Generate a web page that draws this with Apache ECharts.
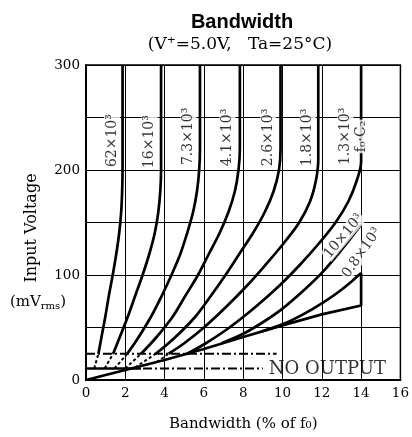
<!DOCTYPE html>
<html><head><meta charset="utf-8">
<script src="https://cdn.jsdelivr.net/npm/echarts@6/dist/echarts.min.js"></script>
<style>html,body{margin:0;padding:0;background:#fff}#c{width:412px;height:437px}</style>
</head><body><div id="c"></div>
<script>
// ---- data ----
const xTicks = [0, 2, 4, 6, 8, 10, 12, 14, 16];
const yTickLabels = [0, 100, 200, 300];

// curves (solid parts, above the 25 mV dash-dot line)
const c62 = [[0.63,25],[0.78,40],[0.98,60],[1.16,80],[1.36,100],[1.54,120],[1.69,140],[1.79,160],[1.84,180],[1.86,200],[1.86,300]];
const c16 = [[1.38,25],[1.7,40],[2.12,60],[2.5,80],[2.88,100],[3.22,120],[3.5,140],[3.68,160],[3.78,180],[3.82,200],[3.82,300]];
const c73 = [[2.1,25],[2.65,40],[3.3,60],[3.85,80],[4.35,100],[4.8,120],[5.15,140],[5.45,160],[5.65,180],[5.76,200],[5.8,220],[5.8,300]];
const c41 = [[2.8,25],[3.55,40],[4.4,60],[5.05,80],[5.7,100],[6.25,120],[6.8,140],[7.25,160],[7.58,180],[7.76,200],[7.83,220],[7.83,300]];
const c26 = [[3.55,25],[4.5,40],[5.55,60],[6.35,80],[7.1,100],[7.8,120],[8.5,140],[9.1,160],[9.55,180],[9.82,200],[9.9,220],[9.9,300]];
const c18 = [[4.2,25],[5.0,35],[6.0,50],[7.15,70],[8.2,90],[9.15,110],[10.05,130],[10.85,150],[11.4,170],[11.7,190],[11.82,210],[11.82,300]];
const c13 = [[5.1,24.5],[6.1,35],[7.3,50],[8.65,70],[9.85,90],[10.9,110],[11.85,130],[12.7,150],[13.35,170],[13.78,190],[14,208],[14,300]];
const c10 = [[6.9,35],[8,44],[9,55],[10,68],[11,84],[12,102],[13,124],[14,148]];
const c08 = [[8.9,46],[10,53],[11,62],[12,73],[13,86],[14,102]];
// dashed parts (between the two dash-dot lines)
const d62 = [[0.42,11],[0.63,25]];
const d16 = [[0.95,11],[1.38,25]];
const d73 = [[1.45,11],[2.1,25]];
const d41 = [[2.0,11],[2.8,25]];
const d26 = [[2.5,12],[3.55,25]];
const d18 = [[3.6,17],[4.2,25]];
// lower boundary line
const boundary = [[0,0],[2,9.5],[4,19],[6,29.5],[8,41],[10,52],[12,62.5],[14,71],[14,102]];
// reference lines
const upperDashDot = [[0,25],[9.7,25]];
const lowerSolid   = [[0,11],[2.8,11]];
const lowerDashDot = [[2.9,11],[9.0,11]];
const noOutputAt   = [9.3, 10.5];

const labelTexts = ['62×10³','16×10³','7.3×10³','4.1×10³','2.6×10³','1.8×10³','1.3×10³','f₀·C₂'];
const labelAt    = [[1.32,228],[3.24,227],[5.22,232],[7.19,231],[9.27,231],[11.29,231],[13.2,232],[14.0,232]];
const slantTexts = ['10×10³','0.8×10³'];
const slantAt    = [[13.11,137],[14.03,121]];

// ---- chart ----
const SERIF = '"DejaVu Serif", serif';
const chart = echarts.init(document.getElementById('c'));
function solid(data){ return {type:'line', data, symbol:'none', smooth:0.35, silent:true, z:5,
  lineStyle:{color:'#000', width:2.7}}; }
function dashed(data){ return {type:'line', data, symbol:'none', silent:true, z:5,
  lineStyle:{color:'#000', width:2, type:[3,2.5]}}; }
function ref(data, type, width){ return {type:'line', data, symbol:'none', silent:true, z:4,
  lineStyle:{color:'#000', width, type}}; }

const series = [
  ...[c62,c16,c73,c41,c26,c18,c13,c10,c08].map(solid),
  ...[d62,d16,d73,d41,d26,d18].map(dashed),
  {type:'line', data:boundary, symbol:'none', silent:true, z:5, lineStyle:{color:'#000', width:2.7}},
  ref(upperDashDot, [9,3,2,3], 2),
  ref(lowerSolid, 'solid', 2.4),
  ref(lowerDashDot, [9,3,2,3], 2),
  {type:'scatter', symbolSize:0, silent:true, z:10,
   data: labelTexts.map((t,i)=>({value:labelAt[i], name:t})),
   label:{show:true, position:'inside', rotate:90, formatter:p=>p.name, color:'#000',
     fontFamily:SERIF, fontSize:14, backgroundColor:'#fff', padding:[1,1]}},
  {type:'scatter', symbolSize:0, silent:true, z:10,
   data: slantTexts.map((t,i)=>({value:slantAt[i], name:t, label:{rotate: i===0?50:55}})),
   label:{show:true, position:'inside', formatter:p=>p.name, color:'#000',
     fontFamily:SERIF, fontSize:14, backgroundColor:'#fff', padding:[0,1]}},
  {type:'scatter', symbolSize:0, silent:true, z:10,
   data:[{value:noOutputAt, name:'NO OUTPUT'}],
   label:{show:true, position:'right', distance:0, formatter:p=>p.name, color:'#000',
     fontFamily:SERIF, fontSize:18}}
];

chart.setOption({
  animation:false,
  backgroundColor:'#fff',
  grid:{left:86, right:10, top:65, bottom:55, show:true, borderColor:'#000', borderWidth:1.5},
  xAxis:{type:'value', min:xTicks[0], max:xTicks[xTicks.length-1], interval:2,
    axisLine:{show:true, lineStyle:{color:'#000', width:2}}, axisTick:{show:false},
    splitLine:{show:true, lineStyle:{color:'#000', width:1}},
    axisLabel:{color:'#000', fontFamily:SERIF, fontSize:13.5, margin:6},
    name:'Bandwidth (% of f₀)', nameLocation:'middle', nameGap:37,
    nameTextStyle:{color:'#000', fontFamily:SERIF, fontSize:15}},
  yAxis:{type:'value', min:0, max:300, interval:50,
    axisLine:{show:true, lineStyle:{color:'#000', width:2}}, axisTick:{show:false},
    splitLine:{show:true, lineStyle:{color:'#000', width:1}},
    axisLabel:{color:'#000', fontFamily:SERIF, fontSize:13.5, margin:6,
      formatter:v => yTickLabels.includes(v) ? String(v) : ''}},
  graphic:[
    {type:'text', x:242, y:22, style:{text:'Bandwidth', font:'bold 20px "Liberation Sans", Arial, sans-serif', fill:'#000', align:'center', verticalAlign:'middle'}},
    {type:'text', x:240, y:45, style:{text:'(V⁺=5.0V,   Ta=25°C)', font:'17px "DejaVu Serif", serif', fill:'#000', align:'center', verticalAlign:'middle'}},
    {type:'text', x:32, y:228, rotation:Math.PI/2, style:{text:'Input Voltage', font:'16px "DejaVu Serif", serif', fill:'#000', align:'center', verticalAlign:'middle'}},
    {type:'text', x:38, y:302, style:{text:'(mV{s|rms})', font:'15px "DejaVu Serif", serif', fill:'#000', align:'center', verticalAlign:'middle',
      rich:{s:{fontSize:10, fontFamily:SERIF, fill:'#000', padding:[8,0,0,0]}}}}
  ],
  series
});
</script></body></html>
